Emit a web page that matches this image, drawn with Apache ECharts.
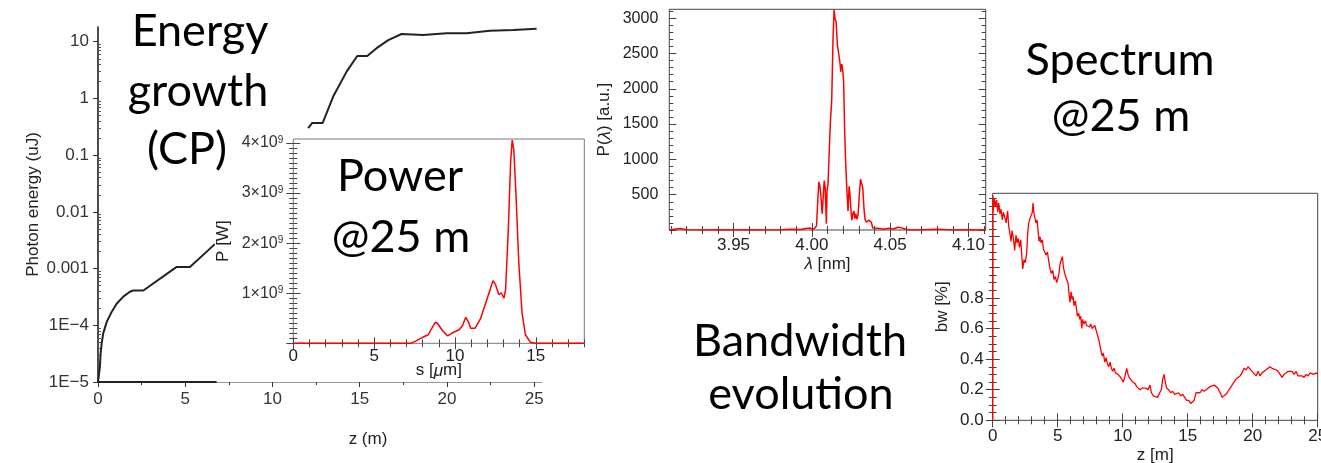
<!DOCTYPE html>
<html><head><meta charset="utf-8">
<script src="https://cdn.jsdelivr.net/npm/echarts@6/dist/echarts.min.js"></script>
<style>
html,body{margin:0;padding:0;background:#fff;width:1321px;height:463px;overflow:hidden}
.c{position:absolute}
</style></head><body>
<div id="main" class="c" style="left:0;top:0;width:1321px;height:463px;"></div>
<div id="power" class="c" style="left:215px;top:129px;width:377px;height:252px;background:#fff"></div>
<div id="spec" class="c" style="left:595px;top:0;width:394px;height:277px;background:#fff"></div>
<div id="labels" class="c" style="left:0;top:0;width:1321px;height:463px;"></div>
<script>
// ---------------- DATA ----------------
// Energy growth (CP): photon energy (uJ) vs z (m); middle part hidden behind the inset
const energyZ1 = [0.0, 0.07, 0.11, 0.15, 0.21, 0.30, 0.50, 0.79, 1.07, 1.45, 1.83, 2.02, 2.60, 4.51, 5.27, 6.70];
const energyE1 = [1e-5, 1.0e-5, 1.86e-5, 3.2e-5, 4.8e-5, 7.2e-5, 1.15e-4, 1.74e-4, 2.4e-4, 3.2e-4, 3.9e-4, 4.1e-4, 4.1e-4, 1.07e-3, 1.07e-3, 2.7e-3];
const energyZ2 = [12.05, 12.28, 12.88, 13.48, 14.25, 14.86, 15.43, 15.97, 16.64, 17.40, 18.64, 19.98, 21.13, 22.46, 23.80, 25.14];
const energyE2 = [0.30, 0.37, 0.37, 1.08, 2.97, 5.6, 5.6, 7.7, 10.7, 13.7, 13.2, 14.1, 14.1, 15.7, 16.1, 17.0];
const energyBaseZ = [0, 6.8];
const energyBaseE = [1e-5, 1e-5];
const energyXLabels = [0, 5, 10, 15, 20, 25];
const energyYLabels = [1e-5, 1e-4, 1e-3, 0.01, 0.1, 1, 10];

// Power @25 m: P [W] vs s [um]
const powerS = [0, 7.28, 7.59, 8.0, 8.35, 8.51, 8.78, 8.92, 9.23, 9.54, 9.85, 10.26, 10.46, 10.67, 10.83, 10.97, 11.24, 11.59, 11.9, 12.1, 12.35, 12.51, 12.72, 12.86, 13.03, 13.13, 13.3, 13.44, 13.54, 13.64, 13.78, 13.95, 14.15, 14.36, 14.67, 14.97, 18];
const powerP = [0, 0, 0.05e9, 0.12e9, 0.17e9, 0.27e9, 0.42e9, 0.40e9, 0.25e9, 0.15e9, 0.21e9, 0.27e9, 0.35e9, 0.52e9, 0.43e9, 0.30e9, 0.30e9, 0.50e9, 0.80e9, 1.0e9, 1.25e9, 1.17e9, 0.97e9, 1.01e9, 0.90e9, 1.07e9, 2.27e9, 3.6e9, 4.06e9, 3.87e9, 2.93e9, 1.6e9, 0.6e9, 0.17e9, 0.02e9, 0, 0];
const powerXLabels = [0, 5, 10, 15];
const powerYLabels = [1e9, 2e9, 3e9, 4e9];

// Spectrum @25 m: P(lambda) [a.u.] vs lambda [nm]
const specL = [3.909, 3.912, 3.916, 3.92, 3.93, 3.94, 3.95, 3.96, 3.97, 3.98, 3.987, 3.993, 3.996, 3.999, 4.0005, 4.002, 4.003, 4.0038, 4.0045, 4.0052, 4.006, 4.0066, 4.0073, 4.0079, 4.0085, 4.0093, 4.0097, 4.0103, 4.011, 4.0118, 4.0127, 4.0135, 4.0142, 4.0148, 4.0155, 4.0163, 4.017, 4.0178, 4.0185, 4.019, 4.0196, 4.0203, 4.021, 4.0217, 4.0224, 4.0231, 4.0238, 4.0243, 4.0249, 4.0255, 4.0262, 4.0268, 4.0275, 4.028, 4.0288, 4.0296, 4.0303, 4.0311, 4.0318, 4.0325, 4.0333, 4.034, 4.0348, 4.0356, 4.0364, 4.0372, 4.038, 4.0389, 4.04, 4.043, 4.046, 4.049, 4.052, 4.055, 4.0575, 4.06, 4.063, 4.07, 4.08, 4.09, 4.1, 4.111];
const specP = [0, 12, 20, 5, 0, 4, 0, 3, 0, 5, 12, 8, 22, 28, 5, 30, 60, 420, 680, 620, 420, 230, 480, 700, 600, 90, 560, 640, 1040, 1510, 1840, 2680, 3120, 3000, 2950, 2620, 2600, 2400, 2240, 2350, 2300, 2100, 1360, 900, 560, 270, 620, 520, 300, 140, 230, 270, 160, 230, 150, 230, 500, 720, 740, 600, 300, 150, 110, 100, 140, 160, 110, 30, 10, 20, 10, 25, 15, 40, 30, 10, 0, 5, 10, 0, 5, 0];
const specXLabels = [3.95, 4.00, 4.05, 4.10];
const specYLabels = [500, 1000, 1500, 2000, 2500, 3000];

// Bandwidth evolution: bw [%] vs z [m]
const bwZ = [0.00, 0.02, 0.05, 0.13, 0.21, 0.31, 0.38, 0.46, 0.56, 0.64, 0.74, 0.82, 0.95, 1.03, 1.15, 1.23, 1.33, 1.41, 1.49, 1.59, 1.69, 1.79, 1.87, 1.97, 2.05, 2.15, 2.23, 2.31, 2.41, 2.51, 2.62, 2.69, 2.77, 2.87, 2.95, 3.05, 3.10, 3.18, 3.26, 3.33, 3.41, 3.49, 3.56, 3.64, 3.72, 3.82, 3.90, 4.00, 4.10, 4.21, 4.31, 4.41, 4.51, 4.62, 4.72, 4.82, 4.92, 5.03, 5.10, 5.18, 5.28, 5.36, 5.44, 5.54, 5.62, 5.69, 5.79, 5.87, 5.95, 6.03, 6.10, 6.18, 6.26, 6.36, 6.44, 6.51, 6.62, 6.69, 6.77, 6.85, 6.92, 7.03, 7.13, 7.23, 7.33, 7.44, 7.54, 7.64, 7.74, 7.85, 7.95, 8.05, 8.15, 8.26, 8.36, 8.44, 8.51, 8.62, 8.72, 8.82, 8.92, 9.03, 9.13, 9.23, 9.33, 9.44, 9.54, 9.64, 9.74, 9.85, 9.95, 10.05, 10.18, 10.31, 10.41, 10.51, 10.62, 10.77, 10.95, 11.08, 11.23, 11.33, 11.49, 11.64, 11.79, 11.95, 12.10, 12.21, 12.36, 12.51, 12.67, 12.82, 12.97, 13.08, 13.18, 13.28, 13.38, 13.54, 13.69, 13.85, 14.00, 14.15, 14.31, 14.46, 14.62, 14.77, 14.92, 15.08, 15.23, 15.38, 15.49, 15.64, 15.79, 15.95, 16.10, 16.26, 16.41, 16.56, 16.72, 16.87, 17.03, 17.18, 17.33, 17.49, 17.64, 17.79, 17.95, 18.10, 18.26, 18.41, 18.56, 18.72, 18.87, 19.03, 19.18, 19.33, 19.49, 19.64, 19.79, 19.95, 20.10, 20.26, 20.41, 20.56, 20.72, 20.87, 21.03, 21.18, 21.33, 21.49, 21.64, 21.79, 21.95, 22.10, 22.26, 22.41, 22.56, 22.72, 22.87, 23.03, 23.18, 23.33, 23.49, 23.64, 23.79, 23.95, 24.10, 24.26, 24.41, 24.67, 24.92, 25.0];
const bwV = [0.00, 1.47, 1.37, 1.45, 1.40, 1.44, 1.36, 1.42, 1.35, 1.38, 1.31, 1.36, 1.32, 1.29, 1.37, 1.27, 1.22, 1.17, 1.24, 1.19, 1.11, 1.21, 1.16, 1.19, 1.13, 1.18, 1.09, 0.99, 1.05, 1.03, 1.10, 1.22, 1.29, 1.32, 1.31, 1.36, 1.42, 1.35, 1.36, 1.29, 1.31, 1.24, 1.17, 1.20, 1.16, 1.18, 1.12, 1.13, 1.08, 1.10, 1.04, 0.99, 0.96, 0.98, 0.92, 0.94, 0.90, 0.93, 0.96, 1.02, 1.05, 1.07, 1.00, 0.96, 0.97, 0.92, 0.90, 0.83, 0.77, 0.84, 0.79, 0.81, 0.75, 0.78, 0.73, 0.68, 0.70, 0.66, 0.68, 0.60, 0.66, 0.63, 0.65, 0.62, 0.63, 0.61, 0.63, 0.60, 0.61, 0.62, 0.59, 0.56, 0.53, 0.54, 0.44, 0.42, 0.44, 0.38, 0.41, 0.37, 0.35, 0.38, 0.34, 0.32, 0.34, 0.31, 0.32, 0.30, 0.31, 0.28, 0.27, 0.25, 0.29, 0.34, 0.30, 0.28, 0.27, 0.25, 0.24, 0.22, 0.21, 0.20, 0.21, 0.20, 0.21, 0.20, 0.23, 0.18, 0.16, 0.16, 0.15, 0.15, 0.20, 0.27, 0.30, 0.25, 0.21, 0.20, 0.18, 0.19, 0.17, 0.17, 0.18, 0.16, 0.17, 0.15, 0.13, 0.13, 0.11, 0.10, 0.13, 0.18, 0.19, 0.18, 0.20, 0.19, 0.20, 0.21, 0.22, 0.23, 0.23, 0.24, 0.21, 0.18, 0.15, 0.15, 0.17, 0.19, 0.21, 0.23, 0.25, 0.27, 0.28, 0.29, 0.31, 0.34, 0.33, 0.35, 0.34, 0.32, 0.31, 0.29, 0.32, 0.29, 0.31, 0.32, 0.33, 0.33, 0.35, 0.34, 0.33, 0.33, 0.32, 0.31, 0.28, 0.30, 0.31, 0.32, 0.31, 0.32, 0.30, 0.32, 0.29, 0.28, 0.29, 0.28, 0.30, 0.29, 0.31, 0.30, 0.31, 0.30];
const bwXLabels = [0, 5, 10, 15, 20, 25];
const bwYLabels = [0.0, 0.2, 0.4, 0.6, 0.8, 1.0, 1.2, 1.4];

// Overlay captions (centre x, baseline y)
const captions = [
  {text: 'Energy', x: 200, y: 46.5},
  {text: 'growth', x: 198, y: 106.5},
  {text: '(CP)', x: 187, y: 165},
  {text: 'Power', x: 400, y: 191.5},
  {text: '@25 m', x: 401, y: 252.5},
  {text: 'Spectrum', x: 1120, y: 76},
  {text: '@25 m', x: 1121, y: 131.5},
  {text: 'Bandwidth', x: 800, y: 356.5},
  {text: 'evolution', x: 801, y: 410}
];

// ---------------- HELPERS ----------------
const FONT = 'Liberation Sans, Arial, sans-serif';
const FRAME = '#444';
function zip(a, b) { return a.map((v, i) => [v, b[i]]); }
function steps(a, b, s) { const out = []; const n = Math.round((b - a) / s); for (let i = 0; i <= n; i++) out.push(+(a + i * s).toFixed(6)); return out; }
function tickAxis(gi, pos, min, max, ticks, len, extra) {
  return Object.assign({
    type: 'value', gridIndex: gi, position: pos, min: min, max: max,
    axisLine: {show: false}, splitLine: {show: false},
    axisTick: {show: true, inside: true, length: len, customValues: ticks, lineStyle: {color: FRAME, width: 1}},
    axisLabel: {show: false}
  }, extra || {});
}
function frameAxes(gi, xr, yr) {
  const x = [
    tickAxis(gi, 'bottom', xr.min, xr.max, xr.major, xr.majorLen, {
      axisLabel: Object.assign({show: true, customValues: xr.labels, fontSize: xr.fontSize || 16, color: '#222', fontFamily: FONT, margin: xr.margin}, xr.label || {}),
      name: xr.name, nameLocation: 'middle', nameGap: xr.nameGap, nameMoveOverlap: false,
      nameTextStyle: Object.assign({fontSize: 17, color: '#222', fontFamily: FONT}, xr.nameStyle || {})
    }),
    tickAxis(gi, 'bottom', xr.min, xr.max, xr.minor, xr.minorLen),
    tickAxis(gi, 'top', xr.min, xr.max, xr.major, xr.majorLen),
    tickAxis(gi, 'top', xr.min, xr.max, xr.minor, xr.minorLen)
  ];
  const y = [
    tickAxis(gi, 'left', yr.min, yr.max, yr.major, yr.majorLen, {
      axisLabel: Object.assign({show: true, customValues: yr.labels, fontSize: yr.fontSize || 16, color: '#222', fontFamily: FONT, margin: yr.margin}, yr.label || {}),
      name: yr.name, nameLocation: 'middle', nameGap: yr.nameGap, nameMoveOverlap: false,
      nameTextStyle: Object.assign({fontSize: 17, color: '#222', fontFamily: FONT}, yr.nameStyle || {})
    }),
    tickAxis(gi, 'left', yr.min, yr.max, yr.minor, yr.minorLen),
    tickAxis(gi, 'right', yr.min, yr.max, yr.major, yr.majorLen),
    tickAxis(gi, 'right', yr.min, yr.max, yr.minor, yr.minorLen)
  ];
  return {x: x, y: y};
}

// ---------------- MAIN (energy + bandwidth) ----------------
const energyMinor = [];
[-5, -4, -3, -2, -1, 0, 1].forEach(k => { for (let m = 2; m <= 9; m++) { const v = m * Math.pow(10, k); if (v < 18.2) energyMinor.push(+v.toPrecision(3)); } });
function logLabel(v) {
  const k = Math.round(Math.log10(v));
  if (k >= 1) return String(Math.pow(10, k));
  if (k >= -3) return String(+Math.pow(10, k).toFixed(-k));
  return '1E\u2212' + (-k);
}
const energyXAxes = [
  {type: 'value', gridIndex: 0, position: 'bottom', min: 0, max: 25.45,
   axisLine: {show: true, lineStyle: {color: '#999', width: 1}}, splitLine: {show: false},
   axisTick: {show: true, length: 5, customValues: energyXLabels, lineStyle: {color: '#333'}},
   axisLabel: {customValues: energyXLabels, fontSize: 17, color: '#333', fontFamily: FONT, margin: 9},
   name: 'z (m)', nameLocation: 'middle', nameGap: 49, nameMoveOverlap: false,
   nameTextStyle: {fontSize: 17, color: '#222', fontFamily: FONT, padding: [0, 0, 0, 96]}},
  {type: 'value', gridIndex: 0, position: 'bottom', min: 0, max: 25.45,
   axisLine: {show: false}, splitLine: {show: false}, axisLabel: {show: false},
   axisTick: {show: true, length: 3, customValues: [2.5, 7.5, 12.5, 17.5, 22.5], lineStyle: {color: '#333'}}}
];
const energyYAxes = [
  {type: 'log', logBase: 10, gridIndex: 0, position: 'left', min: 1e-5, max: 18.2,
   axisLine: {show: true, lineStyle: {color: '#111', width: 1.5}}, splitLine: {show: false},
   axisTick: {show: true, length: 5, customValues: energyYLabels, lineStyle: {color: '#333'}},
   axisLabel: {customValues: energyYLabels, formatter: logLabel, fontSize: 17, color: '#333', fontFamily: FONT, margin: 9},
   name: 'Photon energy (uJ)', nameLocation: 'middle', nameGap: 56, nameMoveOverlap: false,
   nameTextStyle: {fontSize: 17, color: '#222', fontFamily: FONT}},
  {type: 'log', logBase: 10, gridIndex: 0, position: 'left', min: 1e-5, max: 18.2,
   axisLine: {show: false}, splitLine: {show: false}, axisLabel: {show: false},
   axisTick: {show: true, inside: true, length: 3, customValues: energyMinor, lineStyle: {color: '#555'}}}
];
const bwAx = frameAxes(1,
  {min: 0, max: 25, labels: bwXLabels, major: bwXLabels, minor: steps(0, 25, 1), majorLen: 7, minorLen: 4, margin: 8, fontSize: 17,
   name: 'z [m]', nameGap: 27},
  {min: 0, max: 1.484, labels: bwYLabels, major: bwYLabels, minor: steps(0, 1.45, 0.05), majorLen: 7, minorLen: 4, margin: 9, fontSize: 17,
   label: {formatter: v => v.toFixed(1)}, name: 'bw [%]', nameGap: 42});

const main = echarts.init(document.getElementById('main'), null, {renderer: 'canvas'});
main.setOption({
  animation: false, backgroundColor: '#fff',
  grid: [
    {left: 98, top: 27, width: 444, height: 355, outerBoundsMode: 'none', containLabel: false},
    {left: 992.7, top: 193.3, width: 325, height: 227, outerBoundsMode: 'none', containLabel: false,
     show: true, borderColor: FRAME, borderWidth: 1, backgroundColor: 'transparent'}
  ],
  xAxis: energyXAxes.concat(bwAx.x),
  yAxis: energyYAxes.concat(bwAx.y),
  series: [
    {type: 'line', name: 'energy', xAxisIndex: 0, yAxisIndex: 0, showSymbol: false,
     data: zip(energyZ1, energyE1).concat([[9.5, null]], zip(energyZ2, energyE2)),
     lineStyle: {color: '#222', width: 2}},
    {type: 'line', name: 'baseline', xAxisIndex: 0, yAxisIndex: 0, showSymbol: false,
     data: zip(energyBaseZ, energyBaseE), lineStyle: {color: '#222', width: 2}},
    {type: 'line', name: 'bw', xAxisIndex: 2, yAxisIndex: 2, showSymbol: false,
     data: zip(bwZ, bwV), lineStyle: {color: '#ff0000', width: 1.3}}
  ]
});

// ---------------- POWER INSET ----------------
function sciLabel(v) { return '{b|' + Math.round(v / 1e9) + '\u00d710}{s|9}'; }
const pAx = frameAxes(0,
  {min: 0, max: 18, labels: powerXLabels, major: [0, 5, 10, 15], minor: steps(0, 18, 1), majorLen: 6, minorLen: 4, margin: 5, fontSize: 17,
   name: 's [{i|\u03bc}m]', nameGap: 19, nameStyle: {rich: {i: {fontStyle: 'italic', fontSize: 17, fontFamily: FONT, color: '#222'}}}},
  {min: 0, max: 4.08e9, labels: powerYLabels, major: steps(0, 4e9, 1e9), minor: steps(0, 4e9, 1e8), majorLen: 7, minorLen: 4, margin: 10,
   label: {formatter: sciLabel, rich: {b: {fontSize: 16, fontFamily: FONT, color: '#333'}, s: {fontSize: 10, fontFamily: FONT, color: '#333', verticalAlign: 'top', padding: [0, 0, 6, 0]}}},
   name: 'P [W]', nameGap: 61});
const power = echarts.init(document.getElementById('power'), null, {renderer: 'canvas'});
power.setOption({
  animation: false, backgroundColor: '#fff',
  grid: {left: 78.3, top: 10, width: 291, height: 204.3, outerBoundsMode: 'none', containLabel: false,
         show: true, borderColor: '#777', borderWidth: 1, backgroundColor: 'transparent'},
  xAxis: pAx.x, yAxis: pAx.y,
  series: [{type: 'line', showSymbol: false, data: zip(powerS, powerP), lineStyle: {color: '#ff0000', width: 1.5}}]
});

// ---------------- SPECTRUM ----------------
const sAx = frameAxes(0,
  {min: 3.909, max: 4.111, labels: specXLabels, major: specXLabels, minor: steps(3.91, 4.11, 0.01), majorLen: 7, minorLen: 4, margin: 7, fontSize: 17,
   label: {formatter: v => v.toFixed(2)},
   name: '{i|\u03bb} [nm]', nameGap: 26, nameStyle: {rich: {i: {fontStyle: 'italic', fontSize: 17, fontFamily: FONT, color: '#222'}}}},
  {min: 0, max: 3125, labels: specYLabels, major: steps(0, 3000, 500), minor: steps(0, 3100, 100), majorLen: 7, minorLen: 4, margin: 11, fontSize: 16,
   label: {formatter: v => String(Math.round(v))},
   name: 'P({i|\u03bb}) [a.u.]', nameGap: 56, nameStyle: {rich: {i: {fontStyle: 'italic', fontSize: 17, fontFamily: FONT, color: '#222'}}}});
const spec = echarts.init(document.getElementById('spec'), null, {renderer: 'canvas'});
spec.setOption({
  animation: false, backgroundColor: '#fff',
  grid: {left: 74.3, top: 9.3, width: 316.4, height: 220.7, outerBoundsMode: 'none', containLabel: false,
         show: true, borderColor: FRAME, borderWidth: 1, backgroundColor: 'transparent'},
  xAxis: sAx.x, yAxis: sAx.y,
  series: [{type: 'line', showSymbol: false, data: zip(specL, specP), lineStyle: {color: '#ff0000', width: 1.5}}]
});

// ---------------- CAPTIONS OVERLAY ----------------
const labels = echarts.init(document.getElementById('labels'), null, {renderer: 'canvas'});
labels.setOption({
  animation: false,
  graphic: captions.map(c => ({
    type: 'text', x: c.x, y: c.y + 7, silent: true,
    style: {text: c.text, font: '45px Lato, "Open Sans", sans-serif', fill: '#000', textAlign: 'center', textVerticalAlign: 'bottom'}
  }))
});
</script>
</body></html>
